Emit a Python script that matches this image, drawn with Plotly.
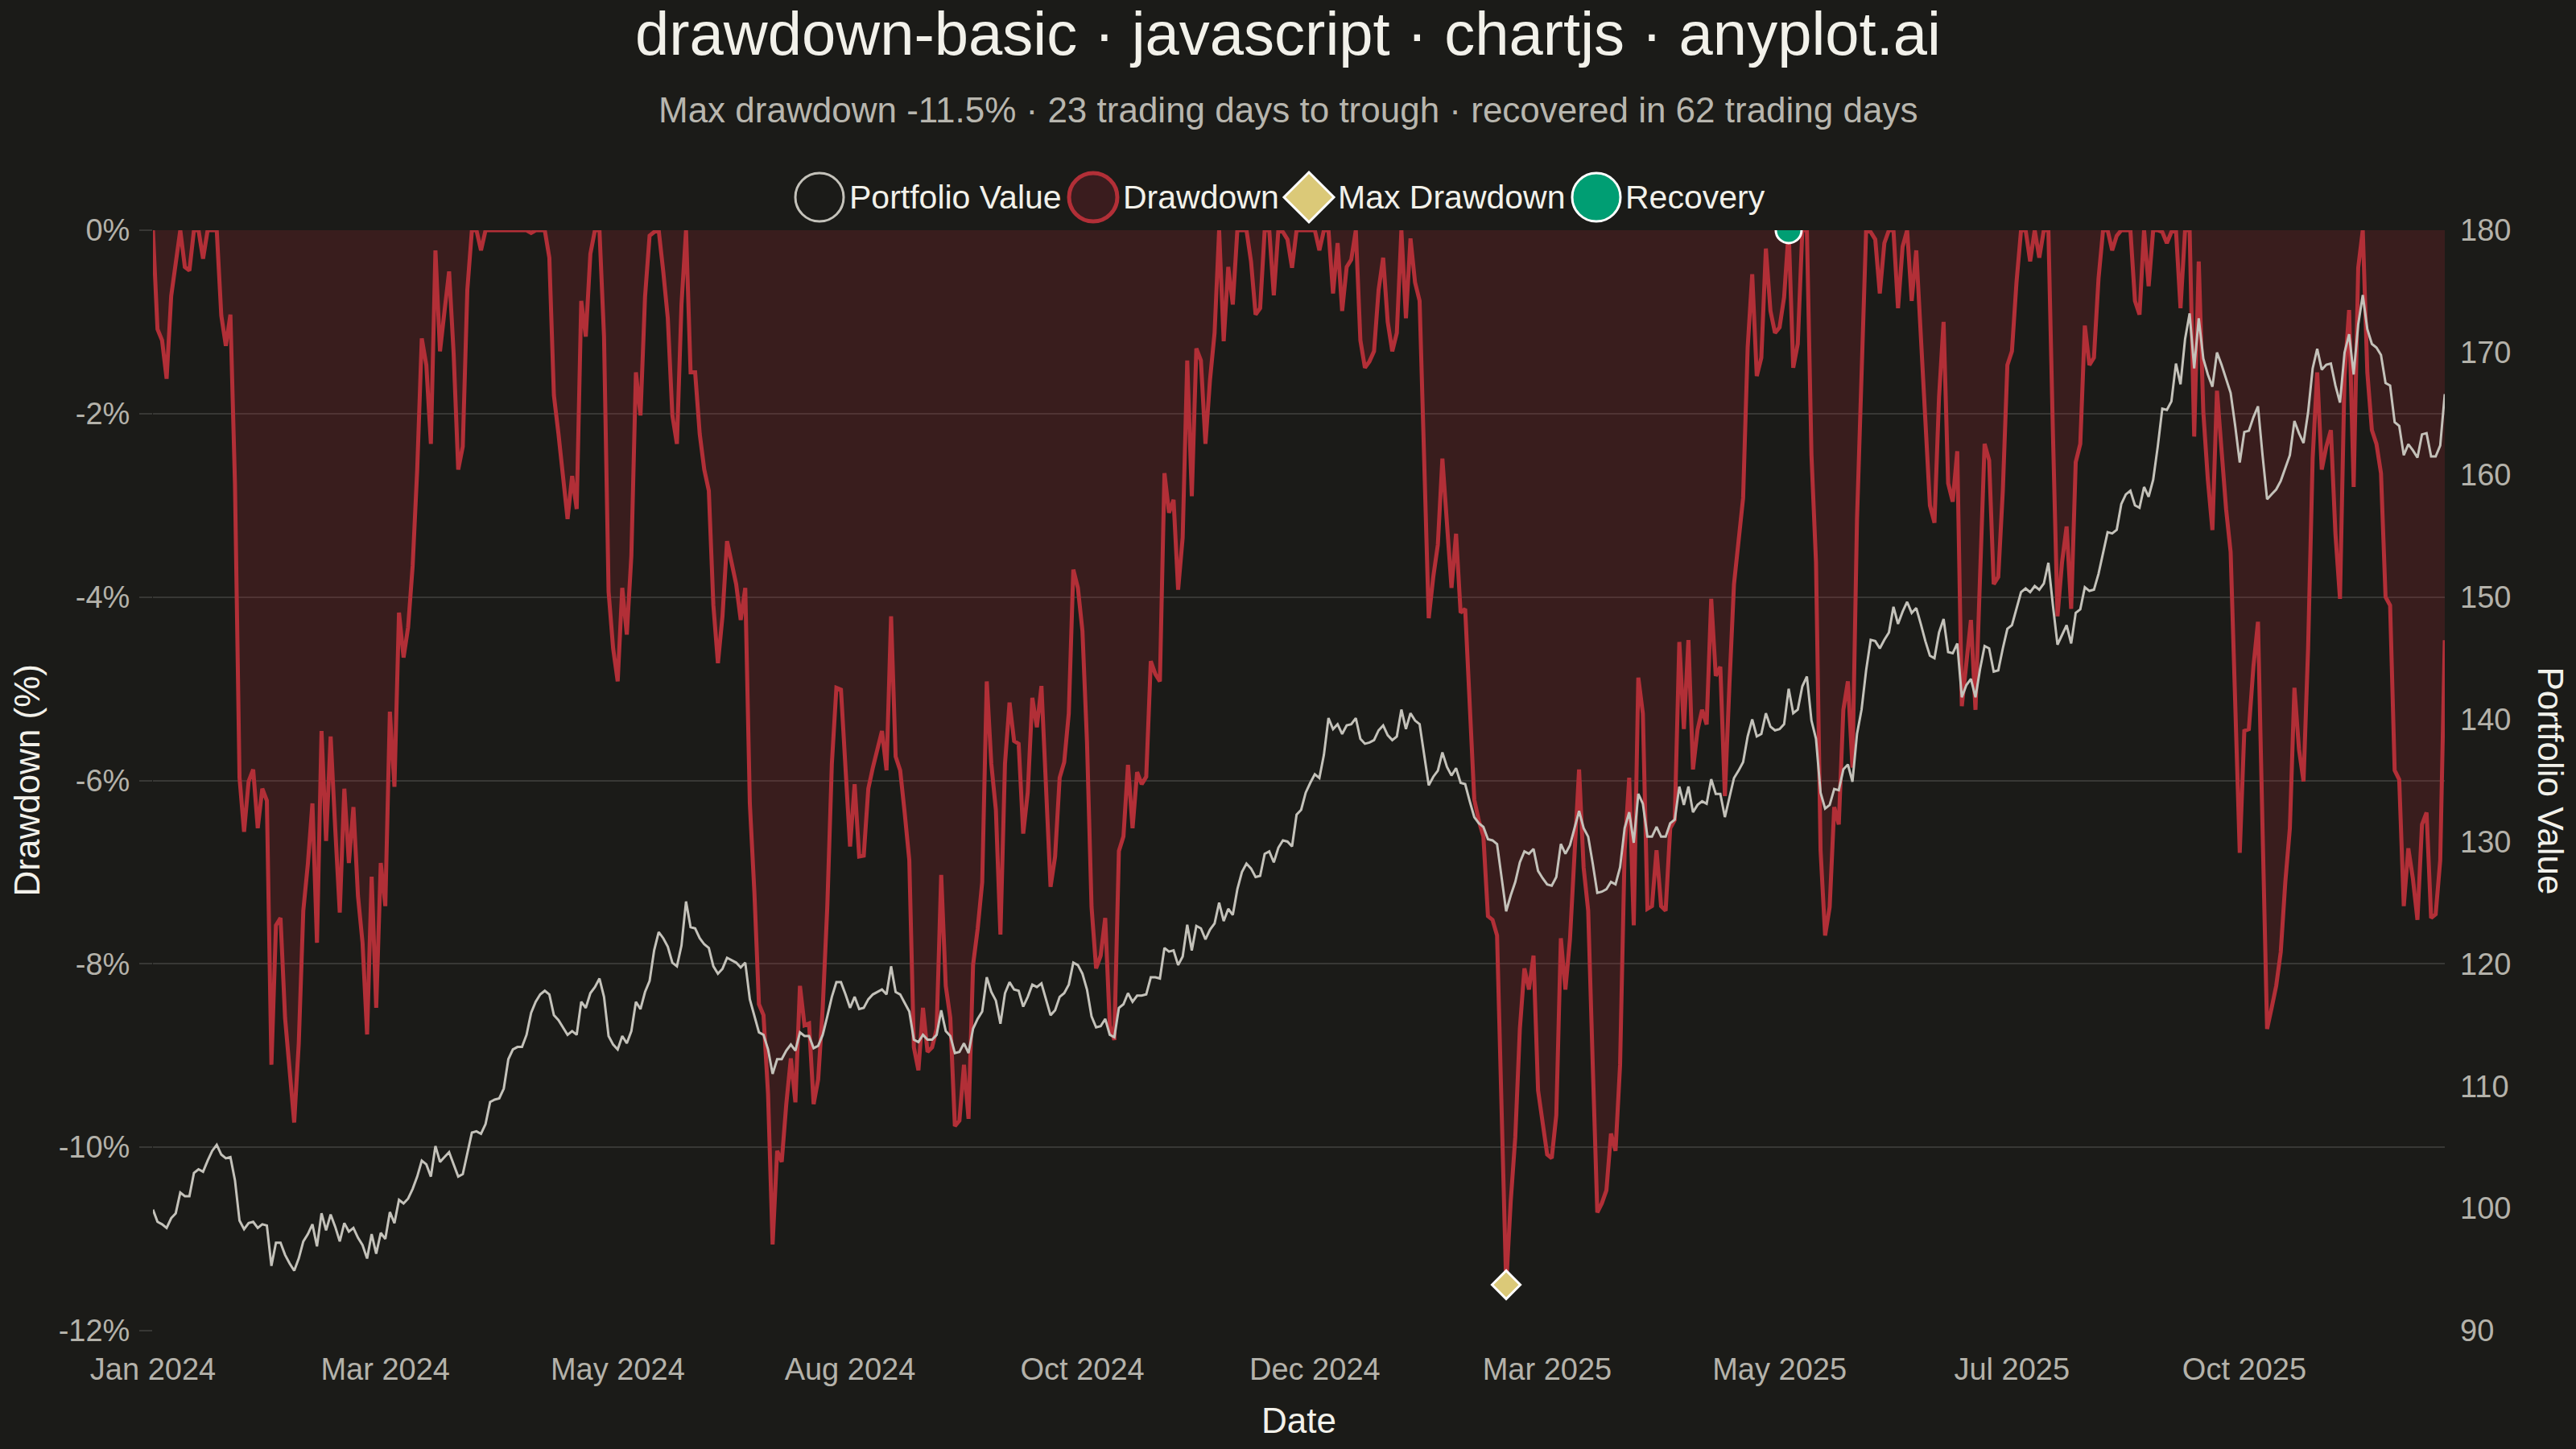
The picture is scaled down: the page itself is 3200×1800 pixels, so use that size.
import pandas as pd
import plotly.graph_objects as go

# Drawdown from the running peak, in percent, one value per trading day
drawdown_pct = [
    0, -1.08, -1.20, -1.62, -0.72, -0.37, 0, -0.40, -0.44, 0,
    0, -0.31, 0, 0, 0, -0.93, -1.26, -0.92, -2.76, -5.97,
    -6.56, -6.01, -5.88, -6.52, -6.09, -6.22, -9.10, -7.58, -7.50, -8.59,
    -9.22, -9.73, -8.87, -7.42, -6.91, -6.25, -7.77, -5.46, -6.66, -5.52,
    -6.52, -7.44, -6.09, -6.90, -6.29, -7.26, -7.77, -8.77, -7.05, -8.48,
    -6.90, -7.37, -5.25, -6.07, -4.17, -4.66, -4.33, -3.66, -2.61, -1.18,
    -1.47, -2.33, -0.22, -1.32, -0.88, -0.45, -1.35, -2.61, -2.36, -0.65,
    0, 0, -0.22, 0, 0, 0, 0, 0, 0, 0,
    0, 0, 0, -0.03, 0, 0, 0, -0.30, -1.80, -2.22,
    -2.68, -3.15, -2.68, -3.04, -0.77, -1.16, -0.26, 0, 0, -1.16,
    -3.94, -4.56, -4.92, -3.90, -4.41, -3.55, -1.55, -2.02, -0.73, -0.06,
    -0.02, 0, -0.45, -0.96, -2.02, -2.33, -0.81, 0, -1.55, -1.55,
    -2.22, -2.61, -2.84, -4.09, -4.72, -4.21, -3.39, -3.62, -3.86, -4.25,
    -3.90, -6.25, -7.22, -8.44, -8.56, -9.42, -11.06, -10.04, -10.16, -9.53,
    -9.03, -9.51, -8.24, -8.67, -8.65, -9.53, -9.26, -8.48, -7.38, -5.82,
    -4.99, -5.01, -5.89, -6.72, -6.04, -6.83, -6.82, -6.09, -5.86, -5.64,
    -5.46, -5.89, -4.21, -5.74, -5.89, -6.36, -6.87, -8.91, -9.16, -8.48,
    -8.96, -8.91, -8.71, -7.03, -8.24, -8.59, -9.77, -9.71, -9.10, -9.69,
    -8.01, -7.62, -7.11, -4.92, -5.82, -6.32, -7.68, -5.82, -5.15, -5.57,
    -5.60, -6.58, -6.13, -5.10, -5.42, -4.97, -6.05, -7.16, -6.83, -5.97,
    -5.80, -5.27, -3.70, -3.90, -4.37, -5.58, -7.38, -8.05, -7.91, -7.50,
    -8.67, -8.83, -6.77, -6.61, -5.83, -6.52, -5.91, -6.04, -5.96, -4.70,
    -4.84, -4.92, -2.65, -3.08, -2.94, -3.92, -3.35, -1.42, -2.90, -1.29,
    -1.42, -2.33, -1.63, -1.12, 0, -1.21, -0.40, -0.81, 0, 0,
    0, -0.34, -0.92, -0.85, 0, 0, -0.71, 0, -0.02, -0.10,
    -0.41, 0, 0, 0, 0, 0, -0.22, 0, 0, -0.69,
    -0.14, -0.88, -0.40, -0.32, 0, -1.20, -1.50, -1.43, -1.32, -0.65,
    -0.30, -1.00, -1.32, -1.12, 0, -0.96, -0.09, -0.57, -0.77, -2.57,
    -4.23, -3.78, -3.43, -2.49, -3.23, -3.90, -3.31, -4.17, -4.13, -5.27,
    -6.21, -6.44, -6.61, -7.48, -7.52, -7.69, -9.73, -11.50, -10.59, -9.89,
    -8.71, -8.05, -8.28, -7.91, -9.38, -9.73, -10.08, -10.12, -9.65, -7.72,
    -8.28, -7.73, -6.87, -5.88, -6.95, -7.42, -9.10, -10.71, -10.61, -10.47,
    -9.85, -10.04, -9.10, -6.76, -5.97, -7.58, -4.88, -5.27, -7.40, -7.37,
    -6.76, -7.37, -7.42, -6.52, -6.43, -4.49, -5.44, -4.47, -5.88, -5.45,
    -5.23, -5.39, -4.02, -4.86, -4.76, -6.17, -4.95, -3.86, -3.39, -2.92,
    -1.28, -0.48, -1.59, -1.39, -0.20, -0.88, -1.12, -1.06, -0.73, 0,
    -1.50, -1.24, 0, 0, -2.45, -3.62, -6.76, -7.69, -7.38, -6.29,
    -6.48, -5.23, -4.92, -5.86, -3.15, -1.67, 0, -0.02, -0.10, -0.69,
    -0.14, 0, 0, -0.85, -0.18, 0, -0.77, -0.22, -1.12, -2.06,
    -3.00, -3.19, -1.82, -1.00, -2.76, -2.96, -2.41, -5.19, -4.76, -4.25,
    -5.23, -3.78, -2.33, -2.51, -3.86, -3.78, -2.84, -1.47, -1.32, -0.57,
    0, 0, -0.34, 0, -0.30, 0, 0, -2.22, -4.21, -3.62,
    -3.23, -4.13, -2.53, -2.33, -1.04, -1.47, -1.39, -0.53, 0, 0,
    -0.22, -0.06, 0, 0, 0, -0.77, -0.92, 0, -0.61, 0,
    0, -0.02, -0.14, -0.02, 0, -0.85, 0, 0, -2.25, -0.34,
    -1.98, -2.72, -3.27, -1.75, -2.37, -3.04, -3.51, -5.19, -6.79, -5.46,
    -5.44, -4.76, -4.27, -6.52, -8.71, -8.48, -8.24, -7.87, -7.11, -6.52,
    -4.99, -5.66, -6.01, -4.56, -2.49, -1.55, -2.61, -2.36, -2.18, -3.31,
    -4.02, -1.59, -0.87, -2.80, -0.41, 0, -1.55, -2.18, -2.33, -2.65,
    -4.00, -4.09, -5.89, -5.99, -7.37, -6.74, -7.07, -7.52, -6.48, -6.35,
    -7.50, -7.46, -6.87, -4.47,
]

# Portfolio value on the same trading days
portfolio_value = [
    99.9, 98.9, 98.7, 98.4, 99.2, 99.6, 101.3, 101.0, 101.0, 102.9,
    103.2, 103.0, 103.9, 104.7, 105.2, 104.4, 104.1, 104.2, 102.3, 99.0,
    98.3, 98.8, 98.9, 98.4, 98.7, 98.6, 95.3, 97.2, 97.2, 96.2,
    95.5, 94.9, 95.9, 97.3, 97.9, 98.7, 96.9, 99.6, 98.2, 99.5,
    98.5, 97.3, 98.8, 98.1, 98.4, 97.6, 97.0, 95.9, 97.9, 96.3,
    98.0, 97.5, 99.7, 98.8, 100.7, 100.4, 100.8, 101.6, 102.6, 103.9,
    103.6, 102.6, 105.1, 103.8, 104.2, 104.6, 103.6, 102.6, 102.8, 104.5,
    106.2, 106.3, 106.1, 106.9, 108.7, 108.9, 109.0, 109.8, 112.2, 113.0,
    113.2, 113.2, 114.2, 116.0, 116.9, 117.5, 117.8, 117.5, 115.8, 115.4,
    114.8, 114.2, 114.5, 114.2, 116.9, 116.4, 117.6, 118.1, 118.8, 117.3,
    114.1, 113.4, 113.0, 114.1, 113.5, 114.5, 116.9, 116.3, 117.7, 118.6,
    121.1, 122.6, 122.1, 121.4, 120.1, 119.8, 121.5, 125.1, 123.0, 122.9,
    122.1, 121.6, 121.3, 119.8, 119.2, 119.6, 120.5, 120.3, 120.1, 119.7,
    120.1, 117.1, 115.8, 114.4, 114.2, 113.0, 111.0, 112.2, 112.2, 112.9,
    113.4, 112.9, 114.4, 114.1, 114.1, 113.1, 113.3, 114.2, 115.7, 117.3,
    118.5, 118.5, 117.5, 116.4, 117.3, 116.3, 116.4, 117.1, 117.5, 117.7,
    117.9, 117.5, 119.8, 117.7, 117.5, 116.8, 116.1, 113.8, 113.6, 114.2,
    113.8, 113.8, 114.2, 116.2, 114.5, 114.1, 112.7, 112.8, 113.5, 112.7,
    114.7, 115.5, 116.1, 118.9, 117.7, 117.0, 115.1, 117.6, 118.5, 117.9,
    117.8, 116.5, 117.3, 118.3, 118.1, 118.4, 117.1, 115.8, 116.2, 117.3,
    117.6, 118.3, 120.1, 119.9, 119.2, 117.9, 115.7, 114.8, 114.9, 115.5,
    114.2, 114.0, 116.4, 116.7, 117.6, 116.9, 117.4, 117.4, 117.5, 118.9,
    118.9, 118.8, 121.3, 121.0, 121.1, 119.9, 120.6, 123.2, 121.1, 123.1,
    122.9, 122.0, 122.8, 123.3, 125.0, 123.5, 124.5, 124.0, 126.1, 127.5,
    128.2, 127.8, 127.1, 127.2, 129.0, 129.2, 128.3, 129.5, 130.1, 130.0,
    129.6, 132.2, 132.6, 134.0, 134.8, 135.5, 135.2, 137.1, 140.1, 139.2,
    139.6, 138.8, 139.5, 139.6, 140.1, 138.4, 138.0, 138.1, 138.3, 139.1,
    139.5, 138.7, 138.3, 138.6, 140.8, 139.2, 140.5, 139.9, 139.6, 137.0,
    134.6, 135.3, 135.8, 137.3, 136.1, 135.4, 136.0, 134.8, 134.7, 133.3,
    132.0, 131.5, 131.2, 130.2, 130.1, 129.8, 127.0, 124.3, 125.6, 126.7,
    128.3, 129.2, 129.0, 129.4, 127.6, 127.0, 126.5, 126.4, 127.1, 129.8,
    129.0, 129.7, 131.1, 132.5, 131.1, 130.4, 128.2, 125.8, 125.9, 126.1,
    126.7, 126.5, 127.9, 131.1, 132.4, 129.9, 133.9, 133.1, 130.4, 130.4,
    131.2, 130.4, 130.4, 131.5, 131.8, 134.5, 133.0, 134.5, 132.4, 133.0,
    133.3, 133.1, 135.1, 133.9, 133.9, 132.0, 133.6, 135.2, 135.8, 136.5,
    138.6, 140.0, 138.6, 138.8, 140.5, 139.4, 139.1, 139.2, 139.6, 142.5,
    140.5, 140.8, 142.7, 143.5, 139.9, 138.4, 134.0, 132.7, 133.0, 134.3,
    134.2, 135.9, 136.3, 134.9, 138.8, 140.8, 144.0, 146.5, 146.4, 145.8,
    146.5, 147.1, 149.2, 147.8, 148.8, 149.6, 148.7, 149.1, 147.8, 146.4,
    145.2, 145.0, 147.1, 148.2, 145.5, 145.4, 146.2, 141.8, 142.8, 143.3,
    141.8, 144.1, 146.0, 145.8, 143.9, 144.0, 145.8, 147.4, 147.7, 149.0,
    150.4, 150.7, 150.4, 150.9, 150.6, 151.1, 152.8, 149.3, 146.1, 146.9,
    147.7, 146.2, 148.7, 149.0, 150.8, 150.5, 150.6, 151.9, 153.7, 155.3,
    155.2, 155.5, 157.6, 158.4, 158.7, 157.5, 157.3, 159.0, 158.2, 159.6,
    162.3, 165.4, 165.3, 166.0, 169.1, 167.4, 171.1, 173.2, 168.7, 172.8,
    169.5, 168.2, 167.2, 170.0, 169.0, 167.8, 166.7, 164.0, 161.0, 163.5,
    163.6, 164.7, 165.6, 161.6, 158.0, 158.4, 158.8, 159.5, 160.6, 161.6,
    164.4, 163.4, 162.6, 165.1, 168.7, 170.3, 168.6, 169.0, 169.1, 167.3,
    165.9, 170.0, 171.5, 168.2, 172.3, 174.7, 171.9, 170.7, 170.4, 169.8,
    167.5, 167.3, 164.3, 164.0, 161.6, 162.5, 162.0, 161.4, 163.3, 163.4,
    161.5, 161.5, 162.4, 166.6,
]

tick_labels = ['Jan 2024', 'Mar 2024', 'May 2024', 'Aug 2024', 'Oct 2024',
               'Dec 2024', 'Mar 2025', 'May 2025', 'Jul 2025', 'Oct 2025']
tick_every = 51

dd_tick_vals = [0, -2, -4, -6, -8, -10, -12]
dd_tick_text = ['0%', '-2%', '-4%', '-6%', '-8%', '-10%', '-12%']
value_tick_vals = [90, 100, 110, 120, 130, 140, 150, 160, 170, 180]

legend_names = ['Portfolio Value', 'Drawdown', 'Max Drawdown', 'Recovery']
title_text = 'drawdown-basic · javascript · chartjs · anyplot.ai'
subtitle_text = 'Max drawdown -11.5% · 23 trading days to trough · recovered in 62 trading days'

# Colours
BG = '#1b1b18'
GRID = 'rgba(255,255,255,0.13)'
RED = '#b22f37'
RED_FILL = 'rgba(178,40,50,0.2)'
GREY = '#c4c2ba'
GOLD = '#dbc978'
GREEN = '#009e73'
WHITE = '#f2f1ea'
TICK = '#b4b2aa'
FONT = 'Liberation Sans, Arial, Helvetica, sans-serif'

# Plot area in page pixels
W, H = 3200, 1800
L, R, T, B = 190, 3037, 286, 1653


def px_x(p):
    return (p - L) / (R - L)


def px_y(p):
    return (B - p) / (B - T)


# Trading days (weekdays) used as categories on the x axis
dates = pd.bdate_range('2024-01-01', periods=len(drawdown_pct)).strftime('%Y-%m-%d').tolist()

# Trough and the first return to the old peak after it
trough = drawdown_pct.index(min(drawdown_pct))
recovery = next(i for i in range(trough, len(drawdown_pct)) if drawdown_pct[i] == 0)

fig = go.Figure()
fig.add_trace(go.Scatter(x=dates, y=drawdown_pct, name=legend_names[1], mode='lines',
                         line=dict(color=RED, width=5), fill='tozeroy', fillcolor=RED_FILL,
                         yaxis='y'))
fig.add_trace(go.Scatter(x=[dates[trough]], y=[drawdown_pct[trough]], name=legend_names[2],
                         mode='markers', yaxis='y',
                         marker=dict(symbol='diamond', size=27, color=GOLD,
                                     line=dict(color='white', width=3))))
fig.add_trace(go.Scatter(x=[dates[recovery]], y=[drawdown_pct[recovery]], name=legend_names[3],
                         mode='markers', yaxis='y',
                         marker=dict(symbol='circle', size=32, color=GREEN,
                                     line=dict(color='white', width=3))))
fig.add_trace(go.Scatter(x=dates, y=portfolio_value, name=legend_names[0], mode='lines',
                         line=dict(color=GREY, width=3), yaxis='y2'))

fig.update_layout(
    width=W, height=H,
    paper_bgcolor=BG, plot_bgcolor=BG,
    margin=dict(l=L, r=W - R, t=T, b=H - B),
    showlegend=False,
    font=dict(family=FONT, color=TICK, size=38),
    xaxis=dict(type='category', range=[0, len(dates) - 1],
               tickmode='array', tickvals=dates[::tick_every][:len(tick_labels)], ticktext=tick_labels,
               showgrid=False, zeroline=False, showline=False, ticks='',
               ticklabelstandoff=22, tickfont=dict(size=38, color=TICK)),
    yaxis=dict(range=[-12, 0], tickmode='array', tickvals=dd_tick_vals, ticktext=dd_tick_text,
               showgrid=True, gridcolor=GRID, gridwidth=2, zeroline=False,
               ticks='outside', ticklen=16, tickwidth=2, tickcolor=GRID,
               ticklabelstandoff=4, tickfont=dict(size=38, color=TICK)),
    yaxis2=dict(range=[90, 180], overlaying='y', side='right', tickmode='array',
                tickvals=value_tick_vals, showgrid=False, zeroline=False, ticks='',
                ticklabelstandoff=18, tickfont=dict(size=38, color=TICK)),
)

# Titles and axis titles
annotations = [
    dict(text=title_text, x=px_x(W / 2), y=px_y(41), font=dict(size=76, color=WHITE)),
    dict(text=subtitle_text, x=px_x(W / 2), y=px_y(136), font=dict(size=44, color='#b8b6ae')),
    dict(text='Date', x=px_x((L + R) / 2), y=px_y(1764), font=dict(size=44, color=WHITE)),
    dict(text='Drawdown (%)', x=px_x(33), y=0.5, textangle=-90, font=dict(size=44, color=WHITE)),
    dict(text='Portfolio Value', x=px_x(3168), y=0.5, textangle=90, font=dict(size=44, color=WHITE)),
]
for a in annotations:
    a.update(xref='paper', yref='paper', showarrow=False, xanchor='center', yanchor='middle')

# Legend drawn by hand so the symbols can be as large as in the original
legend_y = px_y(245)
legend_marks = [
    (1018, 'circle', 'rgba(0,0,0,0)', GREY, 3),
    (1358, 'circle', '#3a1c1e', RED, 5),
    (1626, 'diamond', GOLD, 'white', 3),
    (1983, 'circle', GREEN, 'white', 3),
]
legend_text_x = [1053, 1393, 1660, 2017]

shapes = []
for cx, kind, fill, edge, lw in legend_marks:
    shape = dict(xref='paper', yref='paper', xsizemode='pixel', ysizemode='pixel',
                 xanchor=px_x(cx), yanchor=legend_y, fillcolor=fill,
                 line=dict(color=edge, width=lw), layer='above')
    if kind == 'circle':
        shape.update(type='circle', x0=-30, x1=30, y0=-30, y1=30)
    else:
        shape.update(type='path', path='M 0,31 L 31,0 L 0,-31 L -31,0 Z')
    shapes.append(shape)

for name, tx in zip(legend_names, legend_text_x):
    annotations.append(dict(text=name, x=px_x(tx), y=legend_y, xref='paper', yref='paper',
                            showarrow=False, xanchor='left', yanchor='middle',
                            font=dict(size=41, color=WHITE)))

fig.update_layout(annotations=annotations, shapes=shapes)

# Drop the browser's default page margin so the figure sits at the top-left corner
fig.write_html('out.html',
               config={'displayModeBar': False},
               post_script="document.body.style.margin = '0';")
